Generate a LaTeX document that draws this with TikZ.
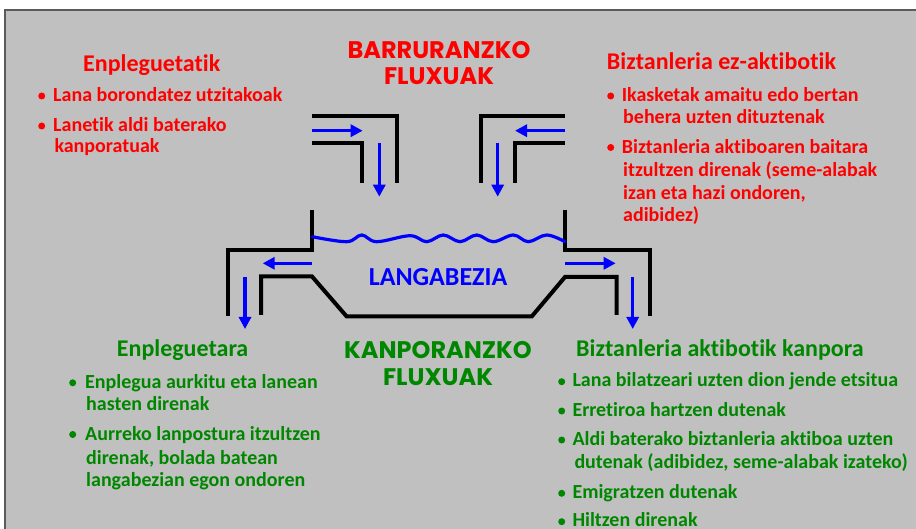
\documentclass[tikz,border=0pt]{standalone}
\usepackage{fontspec}
\setmainfont{Carlito}[Ligatures=NoCommon]
\newfontfamily\titlefont{Poppins}
\usetikzlibrary{arrows.meta}
\definecolor{panelgray}{RGB}{192,192,192}
\definecolor{redtxt}{RGB}{255,0,0}
\definecolor{greentxt}{RGB}{0,135,0}
\definecolor{flowblue}{RGB}{0,0,255}
\definecolor{bordergray}{RGB}{90,90,90}
\begin{document}
\begin{tikzpicture}[x=1pt,y=-1pt,
  pipe/.style={line width=4pt, line join=miter, black},
  flow/.style={draw=flowblue, line width=3.2pt, -{Triangle[length=12pt,width=12pt]}},
  hdr/.style={font=\fontsize{24}{28}\selectfont\bfseries, anchor=base west, inner sep=0pt},
  body/.style={font=\fontsize{20}{24}\selectfont\bfseries, anchor=base west, inner sep=0pt},
  ttl/.style={font=\titlefont\fontsize{24}{28}\selectfont\bfseries, anchor=base, inner sep=0pt},
  dot/.style={circle, fill, inner sep=0pt, minimum size=7pt},
  redset/.style={text=redtxt, fill=redtxt},
  greenset/.style={text=greentxt, fill=greentxt}]
\useasboundingbox (0,0) rectangle (916,529);
\fill[white] (0,0) rectangle (916,529);
\fill[panelgray] (5,10) rectangle (916,529);
\draw[bordergray, line width=1.5pt] (5,529) -- (5,10) -- (916,10);

% titles
\node[ttl, text=redtxt] (t1) at (439,58.3) {BARRURANZKO};
\node[ttl, text=redtxt] (t2) at (439,85) {FLUXUAK};
\node[ttl, text=greentxt] (t3) at (438,358.3) {KANPORANZKO};
\node[ttl, text=greentxt] (t4) at (438,385) {FLUXUAK};

% top-left inflow pipe
\draw[pipe] (312,116) -- (397,116) -- (397,183);
\draw[pipe] (312,143) -- (362,143) -- (362,183);
\coordinate (a1s) at (312,130.7); \coordinate (a1e) at (362.7,130.7);
\draw[flow] (a1s) -- (a1e);
\coordinate (a2s) at (379.3,143); \coordinate (a2e) at (379.3,196.7);
\draw[flow] (a2s) -- (a2e);

% top-right inflow pipe
\draw[pipe] (565,116) -- (481,116) -- (481,183);
\draw[pipe] (565,143) -- (515,143) -- (515,183);
\coordinate (a3s) at (565,130.7); \coordinate (a3e) at (515,130.7);
\draw[flow] (a3s) -- (a3e);
\coordinate (a4s) at (497.7,143); \coordinate (a4e) at (497.7,196.7);
\draw[flow] (a4s) -- (a4e);

% tank
\draw[pipe] (312.3,210) -- (312.3,250) -- (228,250) -- (228,316);
\draw[pipe] (565,210) -- (565,250) -- (650,250) -- (650,316);
\draw[pipe] (261,315) -- (261,276.5) -- (312,276.5) -- (346.7,316.5) -- (531.7,316.5) -- (565,277) -- (616.7,277) -- (616.7,315);

% water surface
\draw[flowblue, line width=3.2pt, line cap=round] plot[smooth, tension=0.6] coordinates {
 (312.3,236.7) (346.7,241.7) (361.7,235) (376.7,241.7) (410,235.7) (426.7,241.7)
 (443.3,235) (460,241.7) (476.7,235) (493.3,241.7) (513.3,235) (528.3,241.7)
 (546.7,235) (565,241.7)};

% outflow arrows
\coordinate (b1s) at (311.7,263.3); \coordinate (b1e) at (262.7,263.3);
\draw[flow] (b1s) -- (b1e);
\coordinate (b2s) at (245,277); \coordinate (b2e) at (245,329);
\draw[flow] (b2s) -- (b2e);
\coordinate (b3s) at (565,263.3); \coordinate (b3e) at (615.7,263.3);
\draw[flow] (b3s) -- (b3e);
\coordinate (b4s) at (632.7,277); \coordinate (b4e) at (632.7,329);
\draw[flow] (b4s) -- (b4e);

\node[font=\fontsize{26}{30}\selectfont\bfseries, text=flowblue, anchor=base, inner sep=0pt] (lang) at (438,286) {LANGABEZIA};

% red left block
\node[hdr, text=redtxt] (rlh) at (83,71.7) {Enpleguetatik};
\node[dot, redset] (rlb1) at (41.7,96) {};
\node[body, text=redtxt] (rl1) at (53,101.7) {Lana borondatez utzitakoak};
\node[dot, redset] (rlb2) at (41.7,126) {};
\node[body, text=redtxt] (rl2) at (53,131.7) {Lanetik aldi baterako};
\node[body, text=redtxt] (rl3) at (54.3,152.7) {kanporatuak};

% red right block
\node[hdr, text=redtxt] (rrh) at (606.7,70) {Biztanleria ez-aktibotik};
\node[dot, redset] (rrb1) at (610.7,96) {};
\node[body, text=redtxt] (rr1) at (621.7,101.7) {Ikasketak amaitu edo bertan};
\node[body, text=redtxt] (rr2) at (623,123.3) {behera uzten dituztenak};
\node[dot, redset] (rrb2) at (610.7,147.5) {};
\node[body, text=redtxt] (rr3) at (621.7,153.3) {Biztanleria aktiboaren baitara};
\node[body, text=redtxt] (rr4) at (623,176.7) {itzultzen direnak (seme-alabak};
\node[body, text=redtxt] (rr5) at (623,199.3) {izan eta hazi ondoren,};
\node[body, text=redtxt] (rr6) at (623,221.7) {adibidez)};

% green left block
\node[hdr, text=greentxt] (glh) at (116.7,356) {Enpleguetara};
\node[dot, greenset] (glb1) at (72.7,382.8) {};
\node[body, text=greentxt] (gl1) at (85,388.3) {Enplegua aurkitu eta lanean};
\node[body, text=greentxt] (gl2) at (86,410) {hasten direnak};
\node[dot, greenset] (glb2) at (72.7,434.5) {};
\node[body, text=greentxt] (gl3) at (85,440) {Aurreko lanpostura itzultzen};
\node[body, text=greentxt] (gl4) at (86,464) {direnak, bolada batean};
\node[body, text=greentxt] (gl5) at (86,486.7) {langabezian egon ondoren};

% green right block
\node[hdr, text=greentxt] (grh) at (576,356) {Biztanleria aktibotik kanpora};
\node[dot, greenset] (grb1) at (561.7,381.7) {};
\node[body, text=greentxt] (gr1) at (572.3,386.7) {Lana bilatzeari uzten dion jende etsitua};
\node[dot, greenset] (grb2) at (561.7,411) {};
\node[body, text=greentxt] (gr2) at (572.3,416) {Erretiroa hartzen dutenak};
\node[dot, greenset] (grb3) at (561.7,440) {};
\node[body, text=greentxt] (gr3) at (572.3,445) {Aldi baterako biztanleria aktiboa uzten};
\node[body, text=greentxt] (gr4) at (574.3,468.3) {dutenak (adibidez, seme-alabak izateko)};
\node[dot, greenset] (grb4) at (561.7,493.3) {};
\node[body, text=greentxt] (gr5) at (572.3,498.3) {Emigratzen dutenak};
\node[dot, greenset] (grb5) at (561.7,521.7) {};
\node[body, text=greentxt] (gr6) at (572.3,526.7) {Hiltzen direnak};
\end{tikzpicture}
\end{document}
